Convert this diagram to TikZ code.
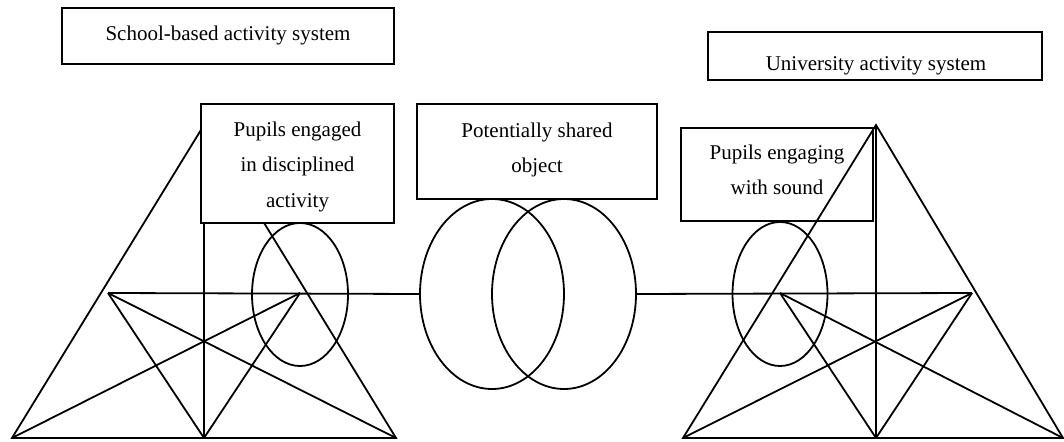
\documentclass[tikz,border=0pt]{standalone}
\usepackage{fontspec}
\setmainfont{Liberation Serif}
\usetikzlibrary{shapes.geometric,fit}
\begin{document}
\begin{tikzpicture}[x=0.5pt,y=-0.5pt,
  line width=0.9pt,
  frame/.style={draw, fill=white, rectangle, inner sep=0pt, line width=0.8pt},
  caption/.style={anchor=north, inner sep=0pt, align=center,
    font=\fontsize{10.5}{17.75}\selectfont},
  loop/.style={draw, ellipse, inner sep=0pt}]
\useasboundingbox (0,0) rectangle (1064,442);

% --- headings of the two activity systems
\node[frame, fit={(62,8) (394,64)}] (fSchool) {};
\node[caption] (tSchool) at (228,24.7) {School-based activity system};
\node[frame, fit={(708,32) (1042,80)}] (fUni) {};
\node[caption] (tUni) at (876,55.7) {University activity system};

% --- shared object: two overlapping ellipses
\node[frame, fit={(417,104) (657,199)}] (fShared) {};
\node[caption] (tShared) at (537,121.7) {Potentially shared\\object};
\node[loop, minimum width=72pt, minimum height=95pt] (cL) at (492,294) {};
\node[loop, minimum width=72pt, minimum height=95pt] (cR) at (564,294) {};

% --- left activity triangle
\coordinate (LA)  at (204,125);
\coordinate (LB1) at (12,438);
\coordinate (LB2) at (204,438);
\coordinate (LB3) at (396,438);
\coordinate (LS1) at (108,293);
\coordinate (LS2) at (300,293);
\node[loop, minimum width=48pt, minimum height=71.5pt] (eL) at (300,294.5) {};
\draw (LB1) -- (LA) -- (LB3) -- cycle;
\draw (LA) -- (LB2);
\draw (LS1) -- (cL.west);
\draw (LS1) -- (LB3);
\draw (LS1) -- (LB2);
\draw (LS2) -- (LB1);
\draw (LS2) -- (LB2);
\node[frame, fit={(201,104) (394,223)}] (fEngaged) {};
\node[caption] (tEngaged) at (297.5,120.7) {Pupils engaged\\in disciplined\\activity};

% --- right activity triangle
\node[frame, fit={(681,128) (873,221)}] (fEngaging) {};
\node[caption] (tEngaging) at (777,143.7) {Pupils engaging\\with sound};
\coordinate (RA)  at (876,125);
\coordinate (RB1) at (683,438);
\coordinate (RB2) at (876,438);
\coordinate (RB3) at (1063,438);
\coordinate (RS1) at (780,293);
\coordinate (RS2) at (972,293);
\node[loop, minimum width=47.5pt, minimum height=72pt] (eR) at (780,294) {};
\draw (RB1) -- (RA) -- (RB3) -- cycle;
\draw (RA) -- (RB2);
\draw (cR.east) -- (RS2);
\draw (RS1) -- (RB3);
\draw (RS1) -- (RB2);
\draw (RS2) -- (RB1);
\draw (RS2) -- (RB2);
\end{tikzpicture}
\end{document}
